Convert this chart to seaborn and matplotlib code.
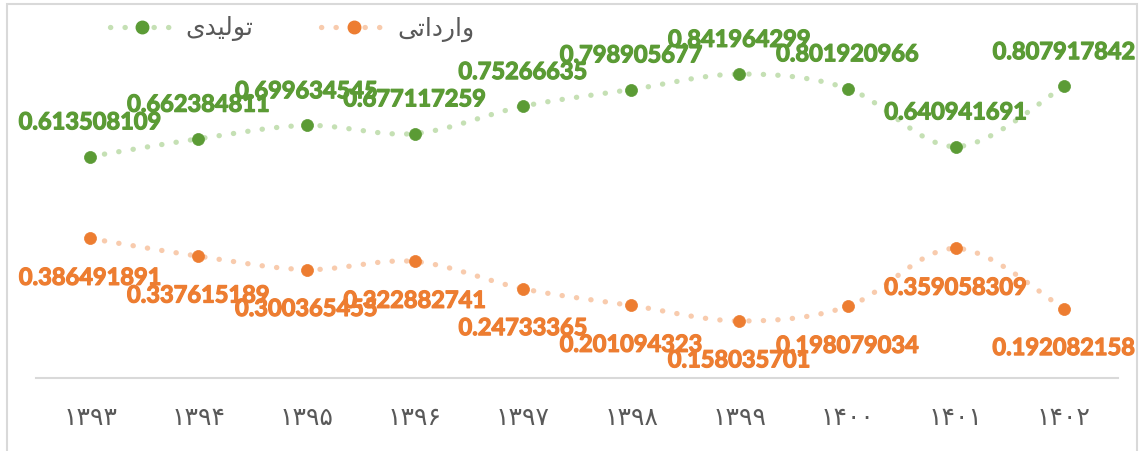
import numpy as np
import matplotlib
matplotlib.use("Agg")
import matplotlib.pyplot as plt
import matplotlib.patheffects as pe
from matplotlib.lines import Line2D
from matplotlib.patches import Rectangle
import seaborn as sns

# data
years = ["۱۳۹۳", "۱۳۹۴", "۱۳۹۵", "۱۳۹۶", "۱۳۹۷", "۱۳۹۸", "۱۳۹۹", "۱۴۰۰", "۱۴۰۱", "۱۴۰۲"]
domestic = [0.613508109, 0.662384811, 0.699634545, 0.677117259, 0.75266635,
            0.798905677, 0.841964299, 0.801920966, 0.640941691, 0.807917842]
imported = [0.386491891, 0.337615189, 0.300365455, 0.322882741, 0.24733365,
            0.201094323, 0.158035701, 0.198079034, 0.359058309, 0.192082158]
# legend names (Persian, pre-shaped presentation forms in visual order)
name_domestic = "\ufbfc\ufeaa\ufbff\ufedf\ufeee\ufe97"   # تولیدی
name_imported = "\ufbfd\ufe97\ufe8d\ufea9\ufead\ufe8d\ufeed"  # وارداتی

GREEN, GREEN_L = "#5b9b35", "#c5e0b4"
ORANGE, ORANGE_L = "#ed7d31", "#f8cbad"
GRAY = "#595959"
DOTS = (0, (0.05, 2.7))

sns.set_theme(style="white")
plt.rcParams["font.family"] = ["Lato", "DejaVu Sans"]


def smooth(y, n=30):
    # catmull-rom style curve like Excel's smoothed line
    y = np.asarray(y, dtype=float)
    x = np.arange(len(y), dtype=float)
    px = np.concatenate([[x[0]], x, [x[-1]]])
    py = np.concatenate([[y[0]], y, [y[-1]]])
    xs, ys = [], []
    for i in range(1, len(px) - 2):
        p0, p1, p2, p3 = [np.array([px[j], py[j]]) for j in range(i - 1, i + 3)]
        c1 = p1 + (p2 - p0) / 6
        c2 = p2 - (p3 - p1) / 6
        t = np.linspace(0, 1, n)[:, None]
        b = (1 - t) ** 3 * p1 + 3 * (1 - t) ** 2 * t * c1 + 3 * (1 - t) * t ** 2 * c2 + t ** 3 * p2
        xs.extend(b[:, 0]); ys.extend(b[:, 1])
    return np.array(xs), np.array(ys)


fig = plt.figure(figsize=(11.41, 4.51), dpi=100)
ax = fig.add_axes([36 / 1141, 73 / 451, 1082 / 1141, 361 / 451])

xi = np.arange(len(years))
for vals, col, light in [(domestic, GREEN, GREEN_L), (imported, ORANGE, ORANGE_L)]:
    sx, sy = smooth(vals)
    ax.plot(sx, sy, color=light, lw=3.8, linestyle=DOTS,
            dash_capstyle="round", zorder=2)
    sns.scatterplot(x=xi, y=vals, ax=ax, color=col, s=75, edgecolor=col,
                    linewidth=0.5, zorder=3, legend=False)

for i, v in enumerate(domestic):
    t = ax.annotate(f"{v:.9g}", (i, v), xytext=(0, 25), textcoords="offset points",
                    ha="center", va="center", color=GREEN, fontsize=17, fontweight="bold")
    t.set_path_effects([pe.withStroke(linewidth=0.9, foreground=GREEN)])
for i, v in enumerate(imported):
    t = ax.annotate(f"{v:.9g}", (i, v), xytext=(0, -28), textcoords="offset points",
                    ha="center", va="center", color=ORANGE, fontsize=17, fontweight="bold")
    t.set_path_effects([pe.withStroke(linewidth=0.9, foreground=ORANGE)])

ax.set_xlim(-0.5, len(years) - 0.5)
ax.set_ylim(0, 1.0)
ax.set_xticks(xi)
ax.set_xticklabels(years, family="DejaVu Sans", fontsize=18, color=GRAY)
ax.tick_params(axis="x", length=0, pad=20)
ax.set_yticks([])
for s in ["top", "left", "right"]:
    ax.spines[s].set_visible(False)
ax.spines["bottom"].set_color("#d9d9d9")
ax.spines["bottom"].set_linewidth(1.5)
ax.patch.set_alpha(0)

# outer chart border
fig.patches.append(Rectangle((7 / 1141, -0.01), 1130 / 1141, 1 - 3.5 / 451 + 0.01,
                             transform=fig.transFigure, fill=False,
                             edgecolor="#d9d9d9", lw=1.5))

handles = [
    Line2D([], [], color=GREEN_L, lw=3.8, linestyle=DOTS, dash_capstyle="round",
           marker="o", markersize=9, markerfacecolor=GREEN, markeredgecolor=GREEN),
    Line2D([], [], color=ORANGE_L, lw=3.8, linestyle=DOTS, dash_capstyle="round",
           marker="o", markersize=9, markerfacecolor=ORANGE, markeredgecolor=ORANGE),
]
leg = fig.legend(handles, [name_domestic, name_imported], ncol=2, frameon=False,
                 loc="center", bbox_to_anchor=(292 / 1141, 1 - 29 / 451),
                 handlelength=2.6, columnspacing=2.7, handletextpad=0.45,
                 prop={"family": "DejaVu Sans", "size": 18})
for t in leg.get_texts():
    t.set_color(GRAY)

fig.savefig("out.png", dpi=100)
